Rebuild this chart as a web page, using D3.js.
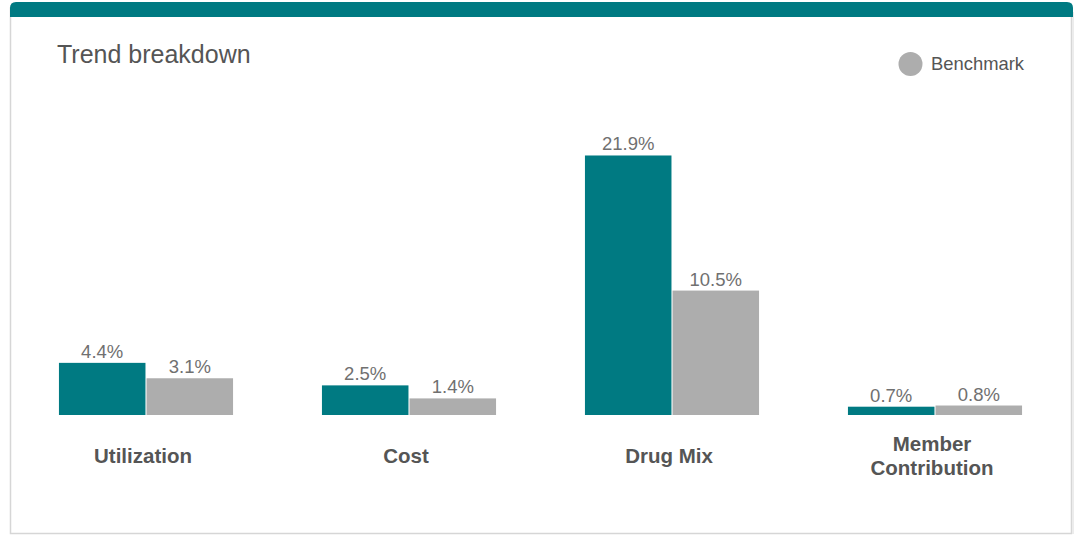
<!DOCTYPE html>
<html>
<head>
<meta charset="utf-8">
<script src="https://cdn.jsdelivr.net/npm/d3@7"></script>
<style>
html,body{margin:0;padding:0;background:#fff;}
svg{display:block;font-family:Arial,"Liberation Sans",sans-serif;}
</style>
</head>
<body>
<svg id="chart" width="1076" height="536"></svg>
<script>
const categories = ["Utilization", "Cost", "Drug Mix", "Member Contribution"];
const categoryLines = [["Utilization"], ["Cost"], ["Drug Mix"], ["Member", "Contribution"]];
const seriesKeys = ["Client", "Benchmark"];
const clientValues = [4.4, 2.5, 21.9, 0.7];
const benchmarkValues = [3.1, 1.4, 10.5, 0.8];
const valueLabels = [["4.4%", "3.1%"], ["2.5%", "1.4%"], ["21.9%", "10.5%"], ["0.7%", "0.8%"]];
const legendLabels = ["Benchmark"];
const title = "Trend breakdown";

const W = 1076, H = 536;
const teal = "#007a82", grey = "#adadad";
const svg = d3.select("#chart");

// Card
svg.append("rect").attr("x", 10.5).attr("y", 8).attr("width", 1061).attr("height", 525.5)
  .attr("fill", "#fff").attr("stroke", "#d6d6d6").attr("stroke-width", 1.5);
svg.append("rect").attr("x", 1072).attr("y", 12).attr("width", 2).attr("height", 522).attr("fill", "#ececec");
// top bar with rounded top corners
const x0b = 10, x1b = 1073, y0b = 2, y1b = 17, r = 6;
svg.append("path")
  .attr("d", `M${x0b},${y1b} L${x0b},${y0b + r} Q${x0b},${y0b} ${x0b + r},${y0b} L${x1b - r},${y0b} Q${x1b},${y0b} ${x1b},${y0b + r} L${x1b},${y1b} Z`)
  .attr("fill", teal);

// Title
svg.append("text").attr("x", 57).attr("y", 63).attr("font-size", 25).attr("fill", "#555").text(title);

// Legend
const lg = svg.append("g");
lg.append("circle").attr("cx", 910.5).attr("cy", 64).attr("r", 12).attr("fill", grey);
lg.append("text").attr("x", 931).attr("y", 69.5).attr("font-size", 18.4).attr("fill", "#555").text(legendLabels[0]);

// Scales
const baseline = 415;
const x0 = d3.scaleBand().domain(categories).range([14.5, 1066.5]).paddingInner(0.338).paddingOuter(0.169);
const x1 = d3.scaleBand().domain(seriesKeys).range([0, x0.bandwidth()]).paddingInner(0.012);
const y = d3.scaleLinear().domain([0, 22]).range([baseline, baseline - 22 * 11.85]);
const color = d3.scaleOrdinal().domain(seriesKeys).range([teal, grey]);

const data = categories.map((c, i) => ({
  cat: c, i,
  vals: [
    {key: "Client", v: clientValues[i], label: valueLabels[i][0]},
    {key: "Benchmark", v: benchmarkValues[i], label: valueLabels[i][1]}
  ]
}));

const groups = svg.append("g").selectAll("g").data(data).join("g")
  .attr("transform", d => `translate(${x0(d.cat)},0)`);

groups.selectAll("rect").data(d => d.vals).join("rect")
  .attr("x", d => x1(d.key))
  .attr("y", d => y(d.v))
  .attr("width", x1.bandwidth())
  .attr("height", d => baseline - y(d.v))
  .attr("fill", d => color(d.key));

groups.selectAll("text.val").data(d => d.vals).join("text")
  .attr("class", "val")
  .attr("x", d => x1(d.key) + x1.bandwidth() / 2)
  .attr("y", d => y(d.v) - 5)
  .attr("text-anchor", "middle")
  .attr("font-size", 18.5)
  .attr("fill", "#707070")
  .text(d => d.label);

// Category labels
const catG = svg.append("g");
data.forEach((d, i) => {
  const lines = categoryLines[i];
  const cx = x0(d.cat) + x0.bandwidth() / 2 - 3;
  const lh = 23.5;
  const startY = 463 - (lines.length - 1) * lh / 2;
  const t = catG.append("text")
    .attr("text-anchor", "middle")
    .attr("font-size", 20.5)
    .attr("font-weight", "bold")
    .attr("fill", "#555");
  lines.forEach((ln, j) => {
    t.append("tspan").attr("x", cx).attr("y", startY + j * lh).text(ln);
  });
});
</script>
</body>
</html>
